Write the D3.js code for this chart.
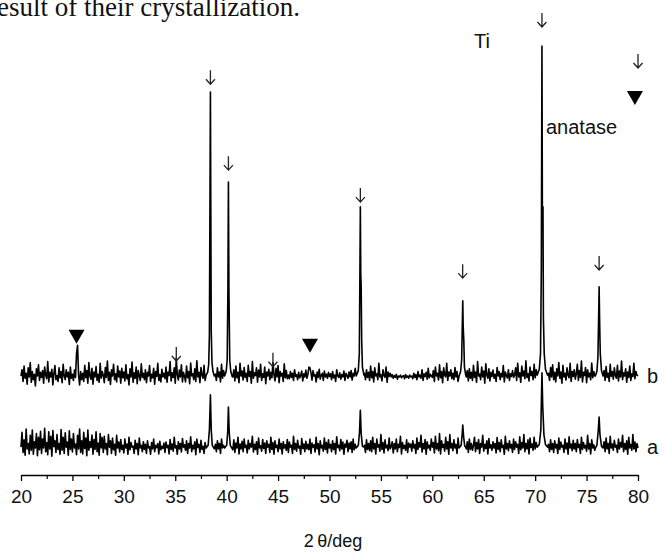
<!DOCTYPE html>
<html><head><meta charset="utf-8">
<script src="https://cdn.jsdelivr.net/npm/d3@7"></script>
<style>
html,body{margin:0;padding:0;background:#fff;}
svg{display:block;}
text{font-family:"Liberation Sans",Arial,sans-serif;fill:#111;}
</style></head>
<body><svg id="c" width="664" height="553"></svg>
<script>
// ---------- data ----------
const angleStart = 20, angleStep = 0.1;           // noise grid: 20.0 .. 80.0
const majorTicks = [20,25,30,35,40,45,50,55,60,65,70,75,80];
const minorTicks = [22.5,27.5,32.5,37.5,42.5,47.5,52.5,57.5,62.5,67.5,72.5,77.5];
const bOffset = 160;

// trace b background (one row = 2 degrees)
const noiseB = [
 60,74,48,82,55,66,42,78,58,90,46,70,52,64,38,76,60,85,50,68,
 57,72,44,80,62,54,92,47,68,58,75,40,66,83,52,61,48,78,56,70,
 45,86,60,52,74,58,68,41,80,55,64,50,73,57,110,128,62,40,70,52,
 66,48,84,56,72,44,90,60,53,77,42,69,58,81,50,64,46,88,55,70,
 62,45,79,57,93,50,68,41,74,60,86,52,65,47,82,58,71,44,77,56,
 69,49,85,54,63,40,76,58,91,46,67,55,80,43,72,61,50,87,57,66,
 52,74,45,68,60,83,48,64,56,77,42,70,59,88,50,63,47,75,58,66,
 54,80,46,69,61,92,49,67,57,78,44,100,62,51,73,58,85,47,68,60,
 47,82,56,70,43,89,60,65,52,76,48,94,58,68,45,79,62,55,84,50,
 60,60,60,60,60,60,60,60,60,64,50,78,58,69,47,86,55,72,61,52,
 60,60,60,60,60,60,58,74,49,82,56,68,45,88,60,71,51,79,57,66,
 48,84,59,70,44,92,55,67,61,78,46,73,58,86,50,65,57,80,43,69,
 60,75,52,68,56,90,63,49,77,58,83,45,70,60,66,48,87,56,72,54,
 62,54,70,57,66,50,74,59,63,52,68,56,61,71,49,65,58,73,55,64,
 80,78,67,51,72,60,63,47,69,57,75,53,62,66,50,71,58,64,55,68,
 59,65,52,70,56,62,48,74,60,57,67,53,63,58,71,50,66,61,55,69,
 58,72,51,66,60,77,60,60,60,60,60,60,60,60,66,52,74,57,68,50,
 82,56,70,47,78,60,65,52,88,58,63,49,74,61,57,80,46,69,59,66,
 58,63,55,61,57,64,53,60,58,62,56,59,61,54,63,57,60,55,62,58,
 60,54,66,57,63,52,70,58,62,55,74,50,65,59,68,53,77,56,64,60,
 57,72,48,80,60,66,51,85,56,70,45,78,62,58,88,50,69,60,74,54,
 66,52,79,58,70,48,60,60,60,60,60,60,60,58,72,49,76,55,68,50,
 84,57,69,46,92,60,64,52,80,58,71,44,87,62,55,76,49,68,59,73,
 55,64,48,79,60,70,52,66,58,83,47,69,61,56,74,50,65,59,72,57,
 62,78,50,88,58,67,46,82,60,71,54,94,57,65,49,80,61,70,52,86,
 56,74,60,60,60,60,60,60,60,60,60,60,60,66,50,79,58,85,52,68,
 47,76,60,90,55,69,44,84,58,66,51,78,62,56,88,48,70,59,74,53,
 65,86,50,72,57,93,47,68,61,79,45,74,58,66,52,89,56,70,60,60,
 60,60,60,60,60,60,60,72,50,81,57,66,48,86,59,70,53,78,61,55,
 84,49,71,58,93,52,67,60,76,46,69,57,82,50,65,59,88,54,70,62,
 60];

// trace a background (one row = 2 degrees)
const noiseA = [
 62,95,50,78,44,102,58,70,47,88,55,100,46,74,60,92,43,84,56,97,
 48,80,60,104,52,72,45,96,58,86,42,99,63,76,50,90,57,70,46,101,
 55,84,48,94,62,73,44,98,57,80,51,92,60,69,45,88,58,102,50,76,
 47,95,59,82,43,100,55,74,61,89,46,79,57,96,52,71,44,92,60,83,
 50,86,58,70,45,90,62,76,48,82,56,68,44,88,60,73,51,79,57,66,
 49,80,60,69,46,84,56,72,62,64,48,77,58,70,45,82,60,66,52,74,
 57,68,48,76,60,63,46,72,58,80,52,66,61,70,47,75,56,64,59,71,
 50,73,61,66,47,79,57,69,53,84,60,65,46,74,58,70,51,81,62,67,
 55,76,48,70,60,85,52,66,58,74,45,80,61,68,50,77,57,64,48,72,
 60,60,60,60,60,60,60,60,60,68,52,76,58,70,48,80,60,66,54,72,
 60,60,60,60,60,60,56,78,50,71,60,84,47,69,58,75,52,80,61,66,
 49,77,58,70,62,86,51,68,57,74,46,82,60,65,53,79,59,71,48,76,
 62,68,50,84,57,72,46,76,61,66,52,80,58,70,47,74,60,67,55,79,
 50,73,62,66,48,86,57,70,53,77,60,64,46,81,59,69,52,75,58,68,
 56,80,48,71,62,67,51,84,58,70,45,76,60,66,53,82,57,72,49,78,
 60,68,52,76,57,70,47,85,61,66,54,79,58,73,46,69,62,77,52,71,
 58,74,50,80,56,68,60,60,60,60,60,60,60,60,66,50,78,57,70,54,
 76,52,84,58,70,47,80,62,67,53,90,57,72,49,78,60,66,54,82,58,
 63,74,49,70,58,80,52,68,61,86,47,72,59,66,55,78,50,71,62,69,
 53,76,60,68,48,82,57,72,62,88,51,70,58,79,46,74,60,66,55,80,
 62,72,49,86,58,70,54,92,47,76,61,68,53,84,58,74,46,90,60,70,
 54,78,60,68,48,82,60,60,60,60,60,60,60,58,74,50,80,57,70,55,
 66,84,52,72,58,79,48,70,62,88,53,68,59,76,47,81,60,67,55,74,
 60,70,49,83,57,72,52,78,61,66,46,86,58,70,54,76,60,68,50,80,
 57,74,62,68,48,85,56,72,60,90,52,70,58,78,47,82,61,69,55,84,
 58,72,60,60,60,60,60,60,60,60,60,60,60,68,52,78,57,70,50,76,
 60,68,48,82,57,73,62,66,50,80,58,71,46,85,60,69,54,77,58,70,
 52,79,61,68,48,84,57,72,60,66,53,88,58,70,47,78,60,67,55,60,
 60,60,60,60,60,60,60,74,52,82,58,70,48,86,60,69,55,77,62,66,
 50,80,58,72,62,88,52,70,57,76,46,84,60,68,55,90,58,73,52,70,
 60];

// peak profiles [angle, intensity]
const peaksB = [
 [[38.0,62],[38.15,68],[38.25,85],[38.32,150],[38.37,420],[38.42,691],[38.46,420],[38.5,160],[38.57,90],[38.67,70],[38.8,60]],
 [[39.8,60],[39.95,70],[40.05,95],[40.12,250],[40.17,491],[40.22,250],[40.3,95],[40.4,70],[40.55,58]],
 [[52.6,60],[52.8,72],[52.9,110],[52.96,300],[53.0,436],[53.04,290],[53.08,258],[53.13,140],[53.2,80],[53.35,62]],
 [[62.6,60],[62.75,70],[62.85,95],[62.92,180],[62.96,227],[63.0,170],[63.06,140],[63.12,80],[63.25,62]],
 [[70.2,62],[70.4,75],[70.52,110],[70.6,300],[70.66,793],[70.7,436],[70.76,436],[70.8,191],[70.88,110],[71.0,75],[71.2,62]],
 [[75.85,60],[76.0,70],[76.1,100],[76.18,200],[76.22,258],[76.27,180],[76.33,110],[76.45,72],[76.6,60]]
];
const peaksA = [
 [[38.0,60],[38.2,66],[38.32,100],[38.42,178],[38.5,100],[38.6,66],[38.8,58]],
 [[39.8,60],[40.0,66],[40.1,95],[40.17,151],[40.25,95],[40.35,66],[40.55,58]],
 [[52.6,60],[52.8,66],[52.92,95],[53.0,144],[53.08,92],[53.2,64],[53.35,62]],
 [[62.6,60],[62.8,66],[62.9,90],[62.96,111],[63.04,86],[63.15,64],[63.25,62]],
 [[70.2,62],[70.4,68],[70.55,100],[70.66,227],[70.74,150],[70.85,90],[71.0,68],[71.2,62]],
 [[75.85,60],[76.0,66],[76.12,95],[76.22,129],[76.3,90],[76.45,64],[76.6,60]]
];

// annotations (angle, intensity on the stacked scale)
const arrowMarks = [[38.42,884],[40.17,693],[53.0,622],[62.95,453],[70.66,1011],[76.22,471],[35.1,269],[44.5,256],[80.0,920]];
const triangleMarks = [[25.4,307],[48.1,287],[79.7,838]];
const traceLabels = [["b",220],["a",62]];

// ---------- drawing ----------
const svg = d3.select("#c");
const x = d3.scaleLinear().domain([20,80]).range([21,638]);
const y = d3.scaleLinear().domain([0,1000]).range([475,25]);

function buildSeries(noise, peaks){
  let pts = noise.map((v,i)=>[+(angleStart+i*angleStep).toFixed(2), v]);
  peaks.forEach(p=>{
    const lo = p[0][0], hi = p[p.length-1][0];
    pts = pts.filter(d=>d[0] < lo || d[0] > hi);
    pts = pts.concat(p);
  });
  return pts.sort((a,b)=>a[0]-b[0]);
}
const serA = buildSeries(noiseA, peaksA);
const serB = buildSeries(noiseB, peaksB);

// header text (cropped line from the page above)
svg.append("text").attr("x",-3).attr("y",16)
  .style("font-family","'Liberation Serif','Times New Roman',serif")
  .style("font-size","27px").text("esult of their crystallization.");

const line = off => d3.line().x(d=>x(d[0])).y(d=>y(d[1]+off));
[[serA,0],[serB,bOffset]].forEach(([s,off])=>{
  svg.append("path").datum(s).attr("d",line(off)).attr("fill","none")
    .attr("stroke","#000").attr("stroke-width",1.6).attr("stroke-linejoin","round");
});

// axis
const gx = svg.append("g").attr("transform",`translate(0,${y(0)})`);
gx.call(d3.axisBottom(x).tickValues(majorTicks).tickSize(6).tickSizeOuter(0).tickPadding(9).tickFormat(d3.format("d")));
gx.select(".domain").attr("stroke","#000").attr("stroke-width",1.5);
gx.selectAll(".tick line").attr("stroke","#000").attr("stroke-width",1.3);
gx.selectAll(".tick text").style("font-size","19px").style("font-family","'Liberation Sans',Arial,sans-serif").attr("fill","#111");
const gm = svg.append("g").attr("transform",`translate(0,${y(0)})`);
gm.call(d3.axisBottom(x).tickValues(minorTicks).tickSize(4).tickFormat(""));
gm.select(".domain").remove();
gm.selectAll(".tick line").attr("stroke","#000").attr("stroke-width",1.2);

svg.append("text").attr("x",333).attr("y",547).attr("text-anchor","middle")
  .style("font-size","18px").text("2\u2009θ/deg");

// arrows (drawn as strokes)
svg.selectAll(".arr").data(arrowMarks).enter().append("path")
  .attr("d",d=>{const cx=x(d[0]), cy=y(d[1]); return `M${cx},${cy-7}L${cx},${cy+7}M${cx-4.5},${cy+2}L${cx},${cy+7}L${cx+4.5},${cy+2}`;})
  .attr("fill","none").attr("stroke","#222").attr("stroke-width",1.3);
// triangles
svg.selectAll(".tri").data(triangleMarks).enter().append("path")
  .attr("d",d=>{const cx=x(d[0]), cy=y(d[1]); return `M${cx-8},${cy-7}L${cx+8},${cy-7}L${cx},${cy+7}Z`;})
  .attr("fill","#000");

// labels
svg.append("text").attr("x",474).attr("y",48).style("font-size","20px").text("Ti");
svg.append("text").attr("x",546).attr("y",134).style("font-size","20px").text("anatase");
svg.selectAll(".tl").data(traceLabels).enter().append("text")
  .attr("x",647).attr("y",d=>y(d[1])+7).style("font-size","20px").text(d=>d[0]);
</script></body></html>
